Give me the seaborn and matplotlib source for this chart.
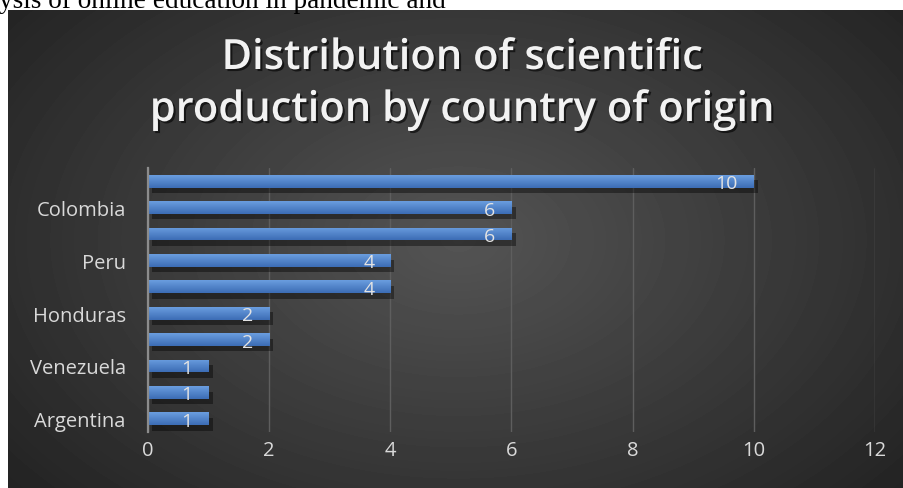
import numpy as np
import pandas as pd
import seaborn as sns
import matplotlib.pyplot as plt
from matplotlib import patheffects as pe

# ---- data -------------------------------------------------------------
countries = ["Ecuador", "Colombia", "Mexico", "Peru", "Chile",
             "Honduras", "Spain", "Venezuela", "Cuba", "Argentina"]
publications = [10, 6, 6, 4, 4, 2, 2, 1, 1, 1]
# every second category label is shown on the axis
shown_labels = ["", "Colombia", "", "Peru", "", "Honduras",
                "", "Venezuela", "", "Argentina"]
x_ticks = [0, 2, 4, 6, 8, 10, 12]
title_lines = ["Distribution of scientific", "production by country of origin"]
header_text = "ysis of online education in pandemic and"

df = pd.DataFrame({"country": countries, "publications": publications})

# ---- style ------------------------------------------------------------
sns.set_style("white")
plt.rcParams["font.family"] = ["Open Sans", "DejaVu Sans"]

W, H = 904, 489
fig = plt.figure(figsize=(W / 100, H / 100), dpi=100, facecolor="white")

# dark panel with a soft radial glow
bg = fig.add_axes([8 / W, 0, (W - 8) / W, (H - 11) / H])
ph, pw = H - 11, W - 8
yy, xx = np.mgrid[0:ph, 0:pw]
r = np.sqrt(((xx - 450) / 500.0) ** 2 + ((yy - 230) / 330.0) ** 2)
shade = np.clip(0.33 - 0.165 * r, 0.12, 0.4)
bg.imshow(shade, cmap="gray", vmin=0, vmax=1, aspect="auto",
          extent=(0, 1, 0, 1), interpolation="bilinear")
bg.set_axis_off()

# ---- bars -------------------------------------------------------------
ax = fig.add_axes([148 / W, (H - 433) / H, (875 - 148) / W, (433 - 169) / H])
ax.set_facecolor("none")
sns.barplot(data=df, x="publications", y="country", orient="h", ax=ax,
            width=0.48, color="#4a7fc8", saturation=1, zorder=3,
            linewidth=0, edgecolor="none")

grad = np.linspace(0, 1, 32).reshape(-1, 1)
bar_cmap = sns.blend_palette(["#6a9ddf", "#3c6db5"], as_cmap=True)
for p in list(ax.patches):
    p.set_linewidth(0)
    p.set_path_effects([pe.SimplePatchShadow(offset=(3, -4), shadow_rgbFace="black",
                                             alpha=0.4), pe.Normal()])
    x0, y0, w, h = p.get_x(), p.get_y(), p.get_width(), p.get_height()
    im = ax.imshow(grad, cmap=bar_cmap, aspect="auto", origin="upper",
                   extent=(x0, x0 + w, y0 + h, y0), zorder=4)
    im.set_clip_path(p)

for i, v in enumerate(publications):
    ax.annotate(str(v), xy=(v, i), xytext=(-16, -2), textcoords="offset pixels",
                ha="right", va="center", fontsize=14, color="#e3e3e3", zorder=5)

ax.set_xlim(0, 12)
ax.set_ylim(9.5, -0.5)
ax.set_xticks(x_ticks)
ax.set_yticks(range(len(countries)))
ax.set_yticklabels(shown_labels)
ax.set_xlabel("")
ax.set_ylabel("")
ax.tick_params(axis="both", length=0, labelsize=14.5, colors="#d9d9d9")
ax.tick_params(axis="y", pad=16)
ax.tick_params(axis="x", pad=6)
ax.xaxis.grid(True, color="#5e5e5e", lw=1)
ax.yaxis.grid(False)
ax.set_axisbelow(True)
for s in ["top", "right", "bottom"]:
    ax.spines[s].set_visible(False)
ax.spines["left"].set_color("#8c8c8c")
ax.spines["left"].set_linewidth(1.6)
ax.spines["left"].set_zorder(6)

# ---- title ------------------------------------------------------------
shadow = [pe.withSimplePatchShadow(offset=(1.5, -1.5), shadow_rgbFace="black", alpha=0.6)]
for line, yc in zip(title_lines, [59, 111]):
    fig.text(462 / W, 1 - yc / H, line, ha="center", va="center", fontsize=30,
             fontweight="semibold", color="#f2f2f2", path_effects=shadow)

# running text above the panel
fig.text(-1 / W, 1 - 8.5 / H, header_text, ha="left", va="baseline",
         fontsize=19.6, family=["Liberation Serif"], color="black")

fig.savefig("out.png", dpi=100, facecolor="white")
